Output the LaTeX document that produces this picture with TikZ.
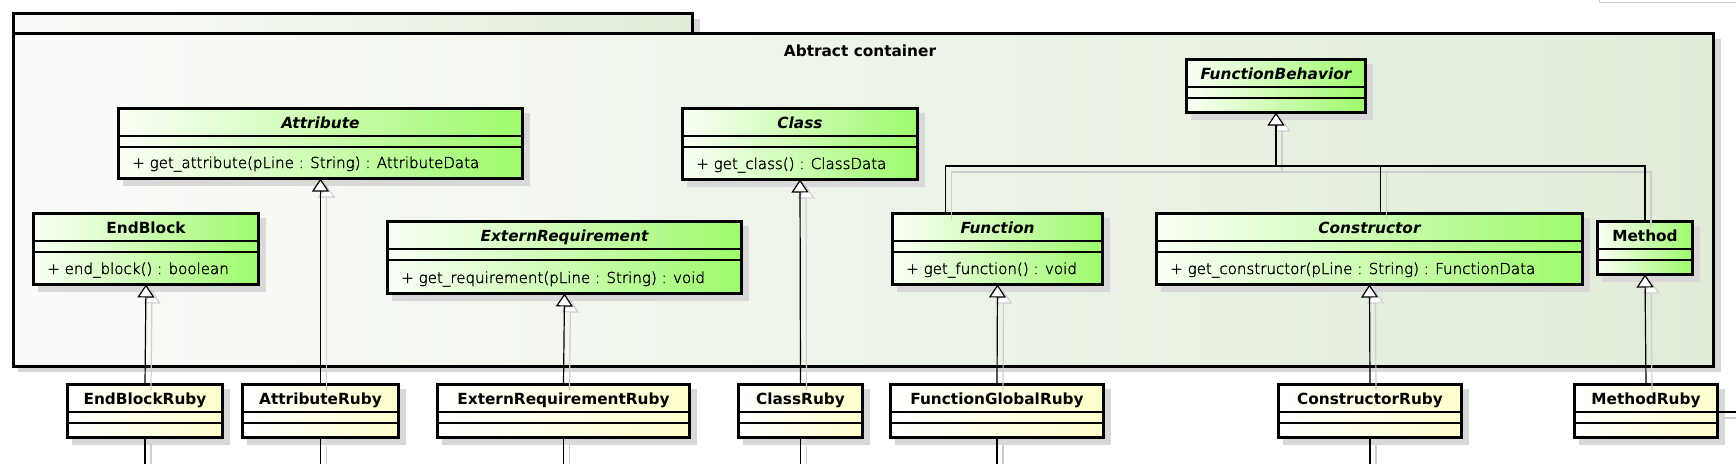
\documentclass[tikz,border=0pt]{standalone}
\usepackage{fontspec}
\setmainfont{DejaVu Sans}
\IfFontExistsTF{DejaVu Sans ExtraLight}{\newfontfamily\lightfont{DejaVu Sans ExtraLight}[FakeBold=1.7]}{\newfontfamily\lightfont{DejaVu Sans}}
\usetikzlibrary{arrows.meta,calc}
\definecolor{grnR}{RGB}{158,250,108}
\definecolor{grnL}{RGB}{250,255,246}
\definecolor{yelR}{RGB}{255,255,204}
\definecolor{pkgL}{RGB}{250,251,249}
\definecolor{pkgR}{RGB}{224,236,216}
\definecolor{shad}{RGB}{216,216,216}
\definecolor{lshad}{RGB}{206,206,206}
\tikzset{
  box/.style={draw=black, line width=2.25pt, inner sep=0pt, outer sep=0pt},
  gbox/.style={box, left color=grnL, right color=grnR},
  ybox/.style={box, left color=white, right color=yelR},
  sepl/.style={line width=0.9pt, black},
  ttl/.style={font=\fontsize{11.5}{14}\selectfont\bfseries, anchor=base, inner sep=0pt},
  ittl/.style={font=\fontsize{11.5}{14}\selectfont\bfseries\itshape, anchor=base, inner sep=0pt},
  mth/.style={font=\fontsize{11.3}{14}\selectfont\lightfont, anchor=base west, inner sep=0pt},
  conn/.style={line width=0.9pt, black},
  inh/.style={conn, -{Triangle[width=12.75pt,length=9.75pt,fill=white,line width=0.9pt]}},
  shconn/.style={line width=0.9pt, lshad, transform canvas={shift={(4.5pt,-4.5pt)}}},
  shinh/.style={shconn, -{Triangle[width=12.75pt,length=9.75pt,fill=white,line width=0.9pt]}},
}
% #1 id, #2 box style, #3 left, #4 top, #5 right, #6 bottom, #7 title style, #8 title, #9 operation
\newcommand\umlcls[9]{%
  \fill[shad] (#3+6,#4+6) rectangle (#5+6,#6+6);
  \node[#2, minimum width={(#5-#3-3)*0.75pt}, minimum height={(#6-#4-3)*0.75pt}] (#1) at ({(#3+#5)/2},{(#4+#6)/2}) {};
  \draw[sepl] (#3+1.5,#4+29) -- (#5-1.5,#4+29);
  \draw[sepl] (#3+1.5,#4+40) -- (#5-1.5,#4+40);
  \node[#7] (#1-name) at ({(#3+#5)/2},#4+21.5) {#8};
  \node[mth] (#1-op) at (#3+15,#6-12) {#9};
}
\begin{document}
\begin{tikzpicture}[x=0.75pt,y=-0.75pt]
\useasboundingbox (0,0) rectangle (1736,464);
% faint edge of an element above the view
\draw[lshad, line width=0.75pt] (1599,-2) -- (1599,2.5) -- (1740,2.5);
% package
\fill[shad] (18,19) rectangle (700,39);
\fill[shad] (18,39) rectangle (1721,372);
\node[box, left color=pkgL, right color=pkgR, minimum width={(694-12-3)*0.75pt}, minimum height={(33-13)*0.75pt}] (tab) at ({(12+694)/2},{(13+33)/2}) {};
\node[box, left color=pkgL, right color=pkgR, minimum width={(1715-12-3)*0.75pt}, minimum height={(366-33)*0.75pt}] (pkg) at ({(12+1715)/2},{(33+366)/2}) {};
\node[ttl] (pkgtitle) at (860,56) {Abtract container};
% abstract classes
\umlcls{eb}{gbox}{32}{212}{260}{286}{ttl}{EndBlock}{+ end\_block() : boolean}
\umlcls{attr}{gbox}{117}{107}{524}{180}{ittl}{Attribute}{+ get\_attribute(pLine : String) : AttributeData}
\umlcls{ext}{gbox}{386}{220}{743}{295}{ittl}{ExternRequirement}{+ get\_requirement(pLine : String) : void}
\umlcls{cls}{gbox}{681}{107}{919}{181}{ittl}{Class}{+ get\_class() : ClassData}
\umlcls{fn}{gbox}{891}{212}{1104}{286}{ittl}{Function}{+ get\_function() : void}
\umlcls{ctor}{gbox}{1155}{212}{1584}{286}{ittl}{Constructor}{+ get\_constructor(pLine : String) : FunctionData}
\umlcls{meth}{gbox}{1596}{220}{1694}{276}{ttl}{Method}{}
\umlcls{fb}{gbox}{1185}{58}{1367}{114}{ittl}{FunctionBehavior}{}
% ruby classes
\umlcls{ebr}{ybox}{66}{383}{224}{439}{ttl}{EndBlockRuby}{}
\umlcls{ar}{ybox}{241}{383}{400}{439}{ttl}{AttributeRuby}{}
\umlcls{err}{ybox}{436}{383}{691}{439}{ttl}{ExternRequirementRuby}{}
\umlcls{cr}{ybox}{737}{383}{864}{439}{ttl}{ClassRuby}{}
\umlcls{fgr}{ybox}{889}{383}{1105}{439}{ttl}{FunctionGlobalRuby}{}
\umlcls{ctr}{ybox}{1277}{383}{1463}{439}{ttl}{ConstructorRuby}{}
\umlcls{mr}{ybox}{1573}{383}{1719}{439}{ttl}{MethodRuby}{}
% helper coordinates
\coordinate (bot) at (0,470);
\coordinate (jy) at (0,166);
\coordinate (jn) at (fb.south |- jy);
\coordinate (mrout) at (1742,412);
% connector shadows
\foreach \c/\p in {ebr/eb, ar/attr, err/ext, cr/cls, fgr/fn, ctr/ctor, mr/meth}{
  \draw[shinh] (\c.north) -- (\p.south);
}
\foreach \c in {ebr, ar, err, cr, fgr, ctr}{
  \draw[shconn] (\c.south) -- (\c.south |- bot);
}
\draw[shconn] (mr.east |- mrout) -- (mrout);
\draw[shconn] ([xshift=-39pt]fn.north) |- (jn);
\draw[shconn] ([xshift=8.25pt]ctor.north) |- (jn);
\draw[shconn] (meth.north) |- (jn);
\draw[shinh] (jn) -- (fb.south);
% connectors
\foreach \c/\p in {ebr/eb, ar/attr, err/ext, cr/cls, fgr/fn, ctr/ctor, mr/meth}{
  \draw[inh] (\c.north) -- (\p.south);
}
\foreach \c in {ebr, ar, err, cr, fgr, ctr}{
  \draw[conn] (\c.south) -- (\c.south |- bot);
}
\draw[conn] (mr.east |- mrout) -- (mrout);
\draw[conn] ([xshift=-39pt]fn.north) |- (jn);
\draw[conn] ([xshift=8.25pt]ctor.north) |- (jn);
\draw[conn] (meth.north) |- (jn);
\draw[inh] (jn) -- (fb.south);
\end{tikzpicture}
\end{document}
